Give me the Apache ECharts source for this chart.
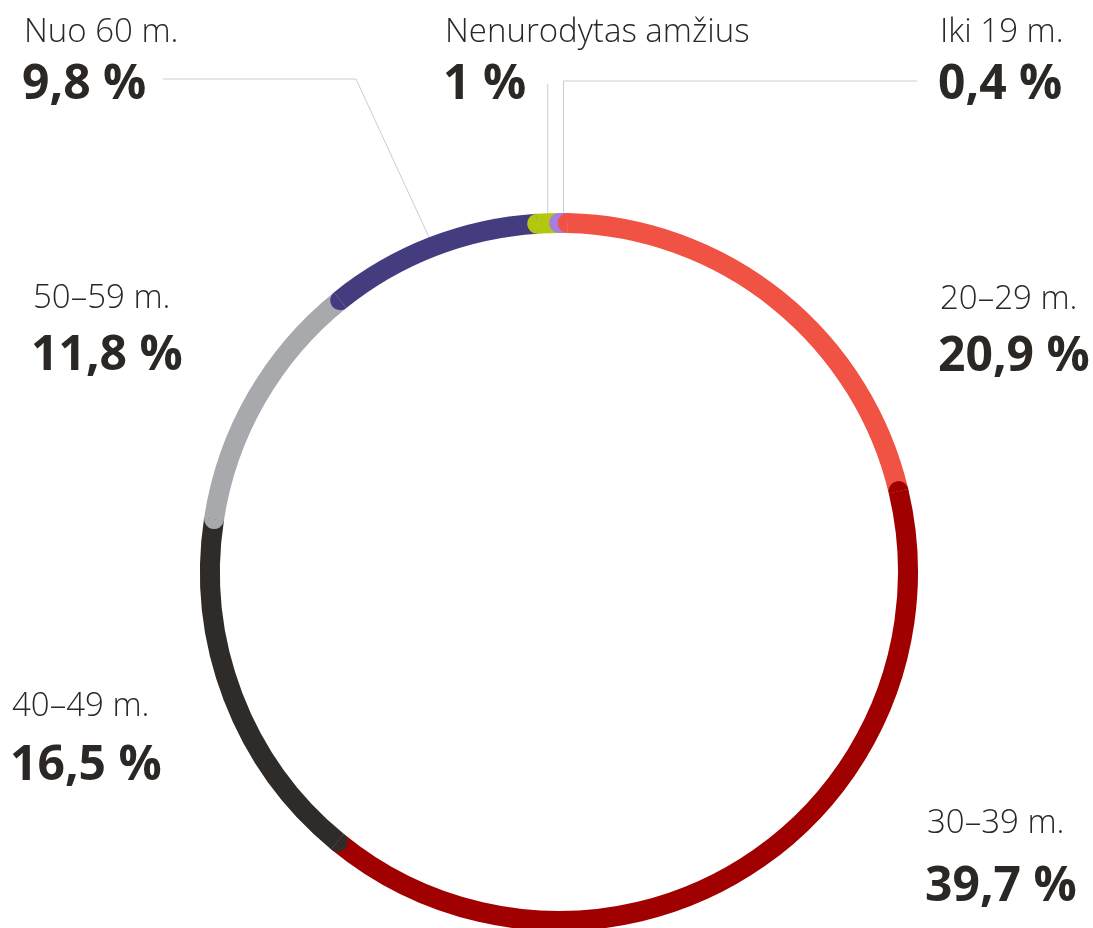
<!DOCTYPE html>
<html>
<head>
<meta charset="utf-8">
<script src="https://cdn.jsdelivr.net/npm/echarts@6/dist/echarts.min.js"></script>
<style>
html, body { margin: 0; padding: 0; background: #fff; }
#chart { width: 1093px; height: 928px; }
</style>
</head>
<body>
<div id="chart"></div>
<script>
// age groups, clockwise from the top
const groups = ['Iki 19 m.', '20–29 m.', '30–39 m.', '40–49 m.', '50–59 m.', 'Nuo 60 m.', 'Nenurodytas amžius']
const shares = [0.4, 20.9, 39.7, 16.5, 11.8, 9.8, 1]
const colors = ['#a77de0', '#f05243', '#a00000', '#2f2b28', '#a8a9ad', '#433d80', '#b3c70e']

const textColor = '#2b2724'
const lineColor = '#cccccc'
const ringR = 349
const ringW = 20

// where each label block sits, and how its leader line bends
const labelPos = [
  {x: 940, y1: 33, y2: 85, line: {y: 81, toX: 917}},
  {x: 940, y1: 300, y2: 357},
  {x: 927, y1: 824, y2: 887},
  {x: 12, y1: 707, y2: 766},
  {x: 33, y1: 299, y2: 356},
  {x: 24, y1: 33, y2: 85, line: {x: 356, y: 79, toX: 163}},
  {x: 445, y1: 33, y2: 85, line: {y: 84}}
]

const total = shares.reduce((a, b) => a + b, 0)
const segs = []
let acc = 0
shares.forEach((v, i) => {
  segs.push([acc, acc + v, i])
  acc += v
})

function fmt(v) {
  return String(v).replace('.', ',') + ' %'
}

function renderItem(params, api) {
  const i = api.value(2)
  const cs = params.coordSys
  const s = api.value(0), e = api.value(1)
  const p0 = api.coord([1, s])
  const p1 = api.coord([1, e])
  const a0 = Math.atan2(p0[1] - cs.cy, p0[0] - cs.cx)
  let a1 = Math.atan2(p1[1] - cs.cy, p1[0] - cs.cx)
  while (a1 <= a0) a1 += Math.PI * 2
  const children = [{
    type: 'arc',
    z2: 1,
    shape: {cx: cs.cx, cy: cs.cy, r: cs.r, startAngle: a0, endAngle: a1, clockwise: true},
    style: {stroke: colors[i], lineWidth: ringW, lineCap: 'butt', fill: null}
  }, {
    // rounded start, lying over the previous segment
    type: 'sector',
    z2: 10 + i,
    shape: {cx: p0[0], cy: p0[1], r0: 0, r: ringW / 2, startAngle: a0 + Math.PI, endAngle: a0 + Math.PI * 2, clockwise: true},
    style: {fill: colors[i]}
  }]
  const lp = labelPos[i]
  if (lp.line) {
    const pm = api.coord([1 + ringW / 2 / ringR, (s + e) / 2])
    let pts
    if (lp.line.x != null) pts = [pm, [lp.line.x, lp.line.y], [lp.line.toX, lp.line.y]]
    else if (lp.line.toX != null) pts = [pm, [pm[0], lp.line.y], [lp.line.toX, lp.line.y]]
    else pts = [pm, [pm[0], lp.line.y]]
    children.push({
      type: 'polyline',
      z2: 0,
      shape: {points: pts},
      style: {stroke: lineColor, lineWidth: 1, fill: null}
    })
  }
  children.push({
    type: 'text',
    z2: 30,
    style: {text: groups[i], x: lp.x, y: lp.y1, fill: textColor, font: '300 33px "Open Sans"', verticalAlign: 'middle', align: 'left'}
  })
  children.push({
    type: 'text',
    z2: 30,
    style: {text: fmt(shares[i]), x: lp.x - 2, y: lp.y2, fill: textColor, font: 'bold 48px "Open Sans"', verticalAlign: 'middle', align: 'left'}
  })
  return {type: 'group', children}
}

const chart = echarts.init(document.getElementById('chart'))
chart.setOption({
  animation: false,
  polar: {center: [559, 572], radius: ringR},
  angleAxis: {type: 'value', min: 0, max: total, startAngle: 90, clockwise: true, show: false},
  radiusAxis: {type: 'value', min: 0, max: 1, show: false},
  series: [{
    type: 'custom',
    coordinateSystem: 'polar',
    silent: true,
    renderItem: renderItem,
    data: segs
  }]
})
</script>
</body>
</html>
